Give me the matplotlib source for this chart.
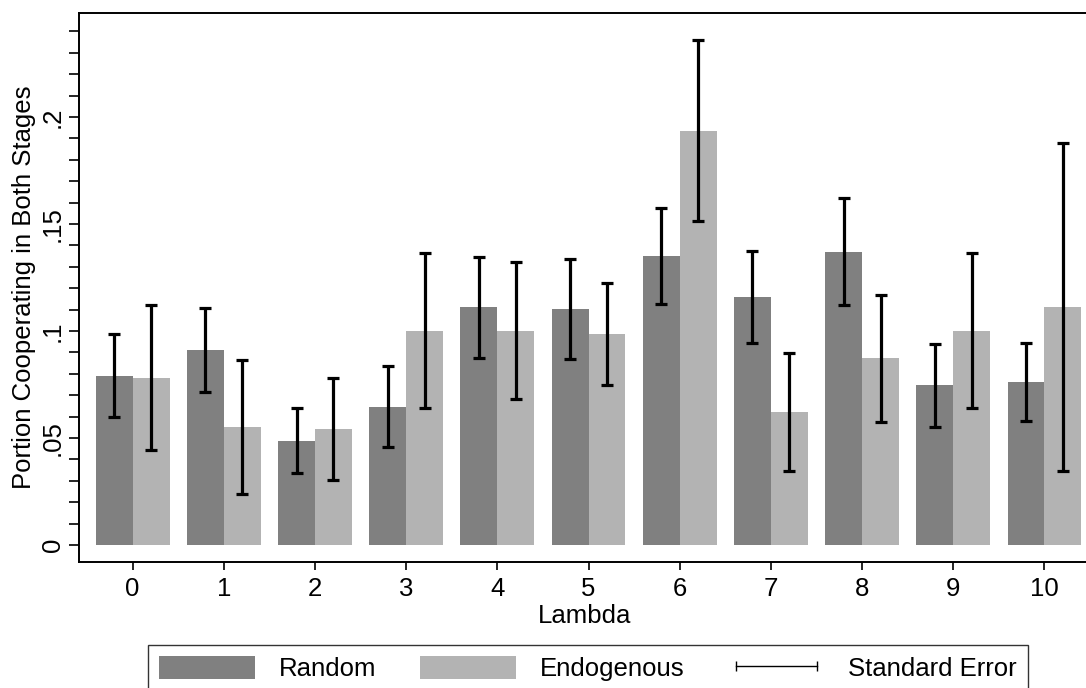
import matplotlib
matplotlib.use("Agg")
import matplotlib.pyplot as plt
from matplotlib.patches import Patch
from matplotlib.lines import Line2D
import numpy as np

lambdas = [0, 1, 2, 3, 4, 5, 6, 7, 8, 9, 10]
random_mean = [0.0791, 0.0911, 0.0487, 0.0646, 0.1111, 0.1101, 0.1350, 0.1160, 0.1371, 0.0746, 0.0762]
random_se = [0.0193, 0.0196, 0.0152, 0.0190, 0.0236, 0.0234, 0.0226, 0.0215, 0.0251, 0.0194, 0.0183]
endog_mean = [0.0782, 0.0551, 0.0542, 0.1002, 0.1002, 0.0986, 0.1935, 0.0621, 0.0872, 0.1002, 0.1111]
endog_se = [0.0340, 0.0315, 0.0238, 0.0364, 0.0320, 0.0237, 0.0423, 0.0274, 0.0297, 0.0362, 0.0766]

plt.rcParams["font.family"] = ["Liberation Sans", "DejaVu Sans"]
plt.rcParams["font.size"] = 18.5

fig = plt.figure(figsize=(10.86, 6.88), dpi=100)
ax = fig.add_axes([0.0727, 0.1836, 0.931, 0.7971])

x = np.array(lambdas, dtype=float)
w = 0.405
ax.bar(x - w / 2, random_mean, w, color="#808080", edgecolor="none")
ax.bar(x + w / 2, endog_mean, w, color="#b3b3b3", edgecolor="none")

ekw = dict(fmt="none", ecolor="black", elinewidth=2.3, capsize=4, capthick=2.3)
ax.errorbar(x - w / 2, random_mean, yerr=random_se, **ekw)
ax.errorbar(x + w / 2, endog_mean, yerr=endog_se, **ekw)

ax.set_xlim(-0.589, 10.5)
ax.set_ylim(-0.0078, 0.2485)

# ticks every .01, labels only on .05 steps
yt = np.round(np.arange(0, 0.245, 0.01), 2)
ax.set_yticks(yt)
ylabs = []
for v in yt:
    if abs(v * 20 - round(v * 20)) < 1e-9:
        ylabs.append("0" if v == 0 else ("%g" % v).lstrip("0"))
    else:
        ylabs.append("")
ax.set_yticklabels(ylabs, rotation=90, va="center")
ax.set_xticks(lambdas)
ax.tick_params(axis="y", length=7, width=1.2, pad=3)
ax.tick_params(axis="x", length=6, width=1.2, pad=5)

ax.spines["right"].set_visible(False)
for s in ["left", "bottom", "top"]:
    ax.spines[s].set_linewidth(1.4)

ax.set_xlabel("Lambda", labelpad=2)
ax.set_ylabel("Portion Cooperating in Both Stages", labelpad=4)

handles = [
    Patch(facecolor="#808080", edgecolor="none"),
    Patch(facecolor="#b3b3b3", edgecolor="none"),
    Line2D([], [], color="black", lw=1, marker="|", markersize=7, mew=1),
]
leg = fig.legend(handles, ["Random", "Endogenous", "Standard Error"],
                 loc="upper center", bbox_to_anchor=(0.5414, 0.0625), ncol=3,
                 frameon=True, fancybox=False, shadow=False, numpoints=2,
                 handlelength=3.74, handleheight=1.0, handletextpad=0.93,
                 columnspacing=1.7, borderpad=0.42, borderaxespad=0)
leg.get_frame().set_edgecolor("black")
leg.get_frame().set_linewidth(1.0)

fig.savefig("out.png", dpi=100)
